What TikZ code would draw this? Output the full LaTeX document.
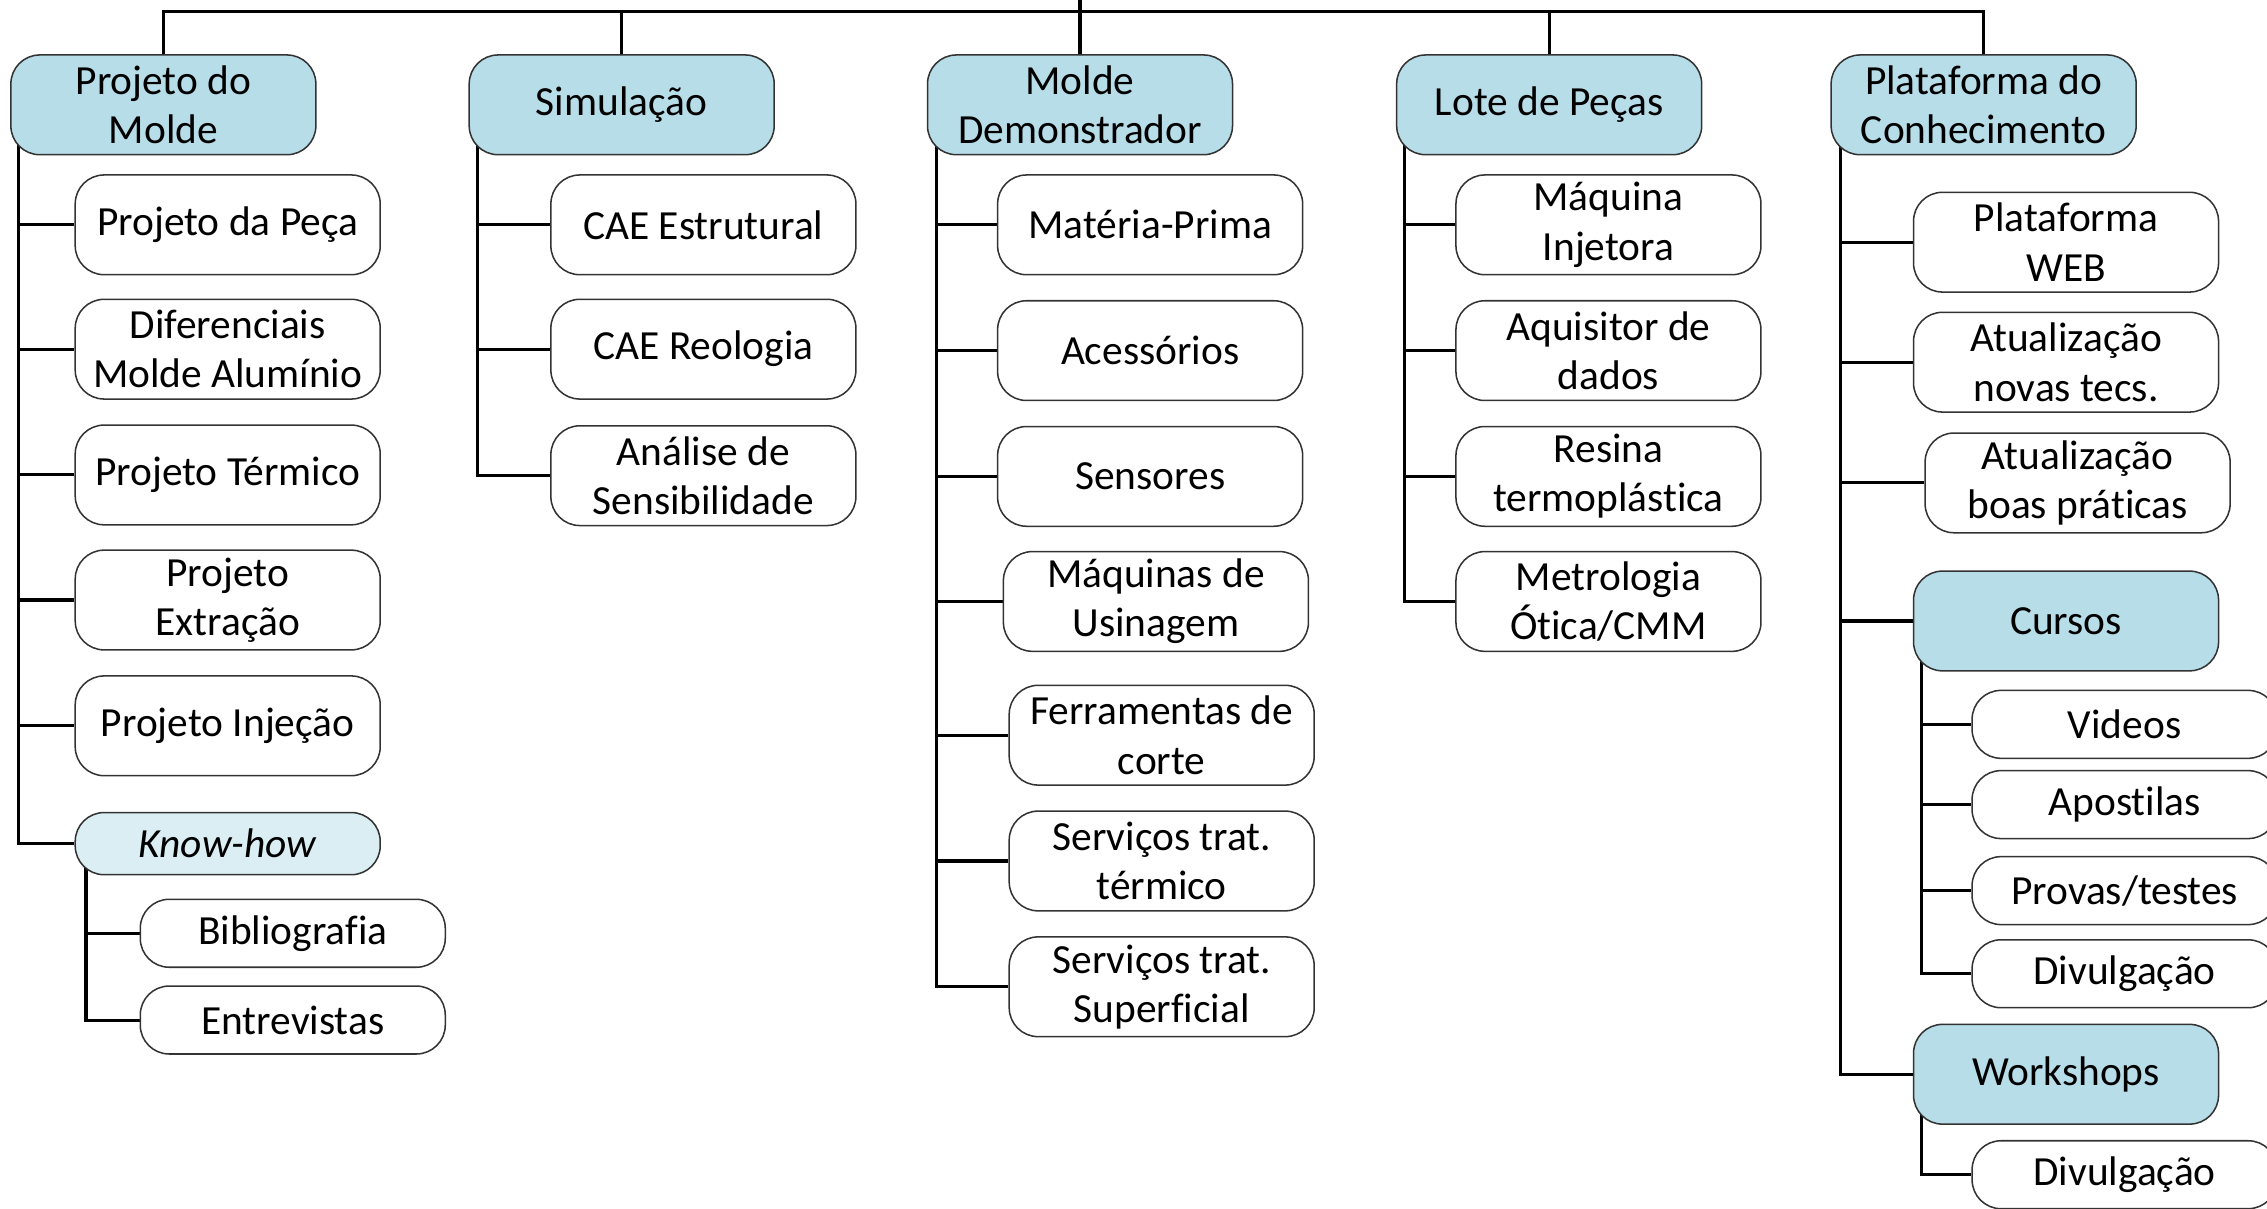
\documentclass[tikz,border=0pt]{standalone}
\usepackage{fontspec}
\setmainfont[Ligatures=NoCommon]{Carlito}
\usetikzlibrary{positioning,backgrounds}
\definecolor{headblue}{HTML}{B7DDE8}
\definecolor{lightblue}{HTML}{DAEEF3}

\begin{document}
\begin{tikzpicture}[x=0.02cm,y=-0.02cm,
    every node/.style={font=\fontsize{16.3}{19.4}\selectfont},
    box/.style={draw=black!80,line width=0.6pt,rounded corners=0.4cm,align=center,
                minimum width=4.22cm,minimum height=1.38cm,inner sep=1pt,fill=white},
    head node/.style={box,fill=headblue},
    leaf node/.style={box,minimum height=0.94cm},
    conn/.style={draw=black,line width=1.2pt}]
\useasboundingbox (0,0) rectangle (1568,836);
%Top level
    \node[head node] (PM) at (113,72.5) {Projeto do\\Molde};
    \node[head node] (SI) at (430,72.5) {Simulação};
    \node[head node] (MD) at (747,72.5) {Molde\\Demonstrador};
    \node[head node] (LP) at (1071.5,72.5) {Lote de Peças};
    \node[head node] (PC) at (1372,72.5) {Plataforma do\\Conhecimento};
%Projeto do Molde
    \node[box] (PP) at (157.5,155.5) {Projeto da Peça};
    \node[box] (DA) at (157.5,241.5) {Diferenciais\\Molde Alumínio};
    \node[box] (PT) at (157.5,328.5) {Projeto Térmico};
    \node[box] (PE) at (157.5,415) {Projeto\\Extração};
    \node[box] (PI) at (157.5,502) {Projeto Injeção};
    \node[leaf node, fill=lightblue, minimum height=0.86cm] (KH) at (157.5,583.5) {\textit{Know-how}};
    \node[leaf node] (BI) at (202.5,645.5) {Bibliografia};
    \node[leaf node] (EN) at (202.5,705.5) {Entrevistas};
%Simulacao
    \node[box] (CE) at (486.5,155.5) {CAE Estrutural};
    \node[box] (CR) at (486.5,241.5) {CAE Reologia};
    \node[box] (AS) at (486.5,329) {Análise de\\Sensibilidade};
%Molde Demonstrador
    \node[box] (MP) at (795.5,155.5) {Matéria-Prima};
    \node[box] (AC) at (795.5,242.5) {Acessórios};
    \node[box] (SE) at (795.5,329.5) {Sensores};
    \node[box] (MU) at (799.5,416) {Máquinas de\\Usinagem};
    \node[box] (FC) at (803.5,508.5) {Ferramentas de\\corte};
    \node[box] (ST) at (803.5,595.5) {Serviços trat.\\térmico};
    \node[box] (SS) at (803.5,682.5) {Serviços trat.\\Superficial};
%Lote de Pecas
    \node[box] (MI) at (1112.5,155.5) {Máquina\\Injetora};
    \node[box] (AD) at (1112.5,242.5) {Aquisitor de\\dados};
    \node[box] (RT) at (1112.5,329.5) {Resina\\termoplástica};
    \node[box] (MO) at (1112.5,416) {Metrologia\\Ótica/CMM};
%Plataforma do Conhecimento
    \node[box] (PW) at (1429,167.5) {Plataforma\\WEB};
    \node[box] (AN) at (1429,250.5) {Atualização\\novas tecs.};
    \node[box] (AB) at (1437,334) {Atualização\\boas práticas};
    \node[head node] (CU) at (1429,429.5) {Cursos};
    \node[leaf node] (VI) at (1469.5,501) {Videos};
    \node[leaf node] (AP) at (1469.5,556.5) {Apostilas};
    \node[leaf node] (PR) at (1469.5,616) {Provas/testes};
    \node[leaf node] (DI) at (1469.5,673.5) {Divulgação};
    \node[head node] (WS) at (1429,743) {Workshops};
    \node[leaf node] (DW) at (1469.5,812.5) {Divulgação};
%Connectors
\begin{scope}[on background layer]
    \coordinate (top) at (747,-5);
    \coordinate (bus) at (747,8);
    \draw[conn] (PM.north) |- (bus) -| (PC.north);
    \draw[conn] (top) -- (bus);
    \foreach \n in {SI,MD,LP}
        \draw[conn] (\n.north) -- (\n.north |- bus);
    \foreach \c in {PP,DA,PT,PE,PI,KH}
        \draw[conn] (PM.west) ++(6,0) |- (\c.west);
    \foreach \c in {BI,EN}
        \draw[conn] (KH.west) ++(8,0) |- (\c.west);
    \foreach \c in {CE,CR,AS}
        \draw[conn] (SI.west) ++(6,0) |- (\c.west);
    \foreach \c in {MP,AC,SE,MU,FC,ST,SS}
        \draw[conn] (MD.west) ++(7,0) |- (\c.west);
    \foreach \c in {MI,AD,RT,MO}
        \draw[conn] (LP.west) ++(6,0) |- (\c.west);
    \foreach \c in {PW,AN,AB,CU,WS}
        \draw[conn] (PC.west) ++(7,0) |- (\c.west);
    \foreach \c in {VI,AP,PR,DI}
        \draw[conn] (CU.west) ++(6,0) |- (\c.west);
    \draw[conn] (WS.west) ++(6,0) |- (DW.west);
\end{scope}
\end{tikzpicture}
\end{document}
